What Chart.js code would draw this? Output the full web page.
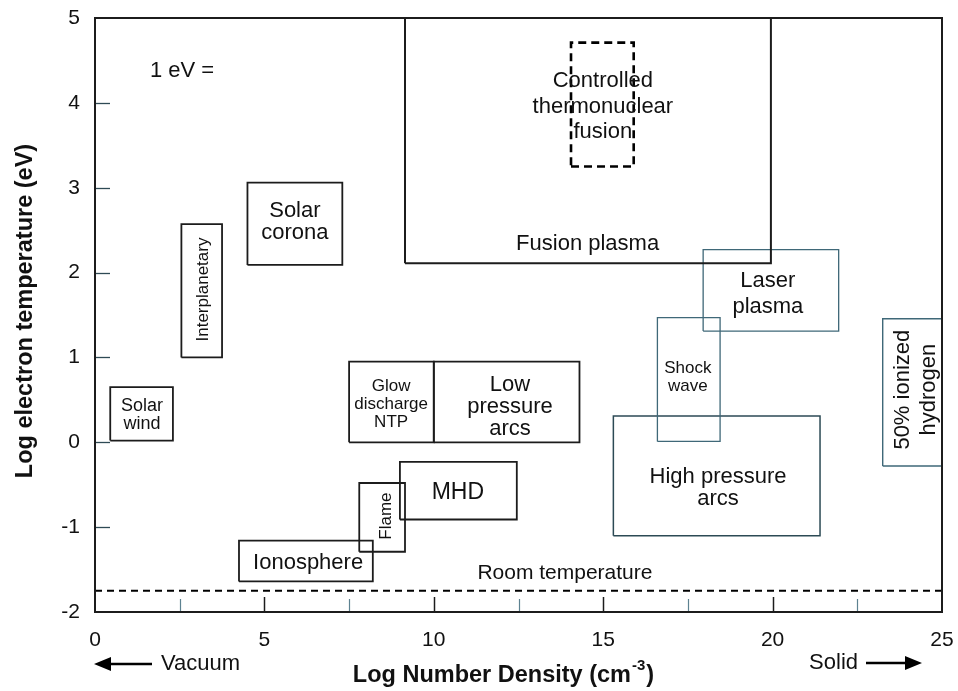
<!DOCTYPE html>
<html>
<head>
<meta charset="utf-8">
<script src="https://cdn.jsdelivr.net/npm/chart.js@4.4.1/dist/chart.umd.min.js"></script>
<style>
  html, body { margin: 0; padding: 0; background: #fff; }
  #wrap { width: 958px; height: 691px; }
</style>
</head>
<body>
<div id="wrap"><canvas id="plasmaChart" width="958" height="691"></canvas></div>
<script>
// Regions of the plasma map (log density in cm^-3, log temperature in eV)
const regionNames = ["Solar wind", "Interplanetary", "Solar corona", "Fusion plasma", "Controlled thermonuclear fusion",
  "Laser plasma", "Shock wave", "High pressure arcs", "50% ionized hydrogen", "Glow discharge NTP",
  "Low pressure arcs", "MHD", "Flame", "Ionosphere"];
const densityMin = [0.45, 2.55, 4.5, 9.15, 14.05, 17.95, 16.6, 15.3, 23.25, 7.5, 10.0, 9.0, 7.8, 4.25];
const densityMax = [2.3, 3.75, 7.3, 19.95, 15.9, 21.95, 18.45, 21.4, 25.0, 10.0, 14.3, 12.45, 9.15, 8.2];
const tempMin = [0.02, 1.0, 2.09, 2.11, 3.25, 1.31, 0.01, -1.1, -0.28, 0.0, 0.0, -0.91, -1.29, -1.64];
const tempMax = [0.65, 2.57, 3.06, 5.0, 4.71, 2.27, 1.47, 0.31, 1.455, 0.95, 0.95, -0.23, -0.48, -1.16];
const roomTemperature = -1.75;

// Tick labels
const xTickValues = [0, 5, 10, 15, 20, 25];
const yTickValues = [-2, -1, 0, 1, 2, 3, 4, 5];

// Text labels (lines, anchor in data units)
const labelLines = [["Solar", "wind"], ["Interplanetary"], ["Solar", "corona"], ["Fusion plasma"],
  ["Controlled", "thermonuclear", "fusion"], ["Laser", "plasma"], ["Shock", "wave"], ["High pressure", "arcs"],
  ["50% ionized", "hydrogen"], ["Glow", "discharge", "NTP"], ["Low", "pressure", "arcs"], ["MHD"], ["Flame"],
  ["Ionosphere"], ["1 eV ="], ["Room temperature"]];
const labelX = [1.39, 3.16, 5.9, 14.54, 14.99, 19.86, 17.5, 18.39, 24.2, 8.74, 12.25, 10.71, 8.56, 6.29, 1.62, 13.87];
const labelY = [0.34, 1.8, 2.61, 2.35, 3.975, 1.77, 0.78, -0.52, 0.62, 0.47, 0.44, -0.58, -0.87, -1.4, 4.39, -1.53];

const fontFamily = '"Liberation Sans", Arial, Helvetica, sans-serif';
const dark = "#1c1c1c";
const blueish = "#3f6878";

// styles for each region box
const regionStyles = [
  { color: dark, width: 1.8 }, { color: dark, width: 1.8 }, { color: dark, width: 1.8 },
  { color: dark, width: 2 }, { color: "#000", width: 2.6, dash: [8, 5] },
  { color: blueish, width: 1.3 }, { color: blueish, width: 1.3 }, { color: "#2c4a55", width: 1.5 },
  { color: blueish, width: 1.4 }, { color: dark, width: 1.8 }, { color: dark, width: 1.8 },
  { color: dark, width: 1.8 }, { color: dark, width: 1.8 }, { color: dark, width: 1.8 }
];

// styles for each text label
const labelStyles = [
  { size: 18, lh: 18 }, { size: 17, rot: true }, { size: 22, lh: 22 }, { size: 22 },
  { size: 22, lh: 25.5 }, { size: 22, lh: 26 }, { size: 17, lh: 18 }, { size: 22, lh: 22 },
  { size: 22, lh: 26, rot: true }, { size: 17, lh: 18 }, { size: 22, lh: 22 }, { size: 23 },
  { size: 17, rot: true }, { size: 22 }, { size: 22, align: "left" }, { size: 21 }
];

const datasets = regionNames.map((name, i) => ({
  label: name,
  data: [
    { x: densityMin[i], y: tempMin[i] },
    { x: densityMax[i], y: tempMin[i] },
    { x: densityMax[i], y: tempMax[i] },
    { x: densityMin[i], y: tempMax[i] },
    { x: densityMin[i], y: tempMin[i] },
  ],
  showLine: true,
  borderColor: regionStyles[i].color,
  borderWidth: regionStyles[i].width,
  borderDash: regionStyles[i].dash || [],
  pointRadius: 0,
  fill: false,
  tension: 0,
  clip: false,
}));

datasets.push({
  label: "Room temperature",
  data: [{ x: 0, y: roomTemperature }, { x: 25, y: roomTemperature }],
  showLine: true,
  borderColor: "#000",
  borderWidth: 2,
  borderDash: [7, 5],
  pointRadius: 0,
  fill: false,
});

// frame, inward ticks, labels, axis titles, arrows
const decorPlugin = {
  id: "decor",
  afterDatasetsDraw(chart) {
    const ctx = chart.ctx;
    const area = chart.chartArea;
    const xs = chart.scales.x;
    const ys = chart.scales.y;
    ctx.save();

    // inward tick marks
    for (let v = 2.5; v < 25; v += 2.5) {
      const px = Math.round(xs.getPixelForValue(v)) + 0.5;
      const major = v % 5 === 0;
      ctx.strokeStyle = major ? dark : "#5d8291";
      ctx.lineWidth = major ? 1.5 : 1.2;
      ctx.beginPath();
      ctx.moveTo(px, area.bottom);
      ctx.lineTo(px, area.bottom - (major ? 15 : 13));
      ctx.stroke();
    }
    yTickValues.forEach((v) => {
      if (v === -2 || v === 5) return;
      const py = Math.round(ys.getPixelForValue(v)) + 0.5;
      ctx.strokeStyle = "#2e4a55";
      ctx.lineWidth = 1.3;
      ctx.beginPath();
      ctx.moveTo(area.left, py);
      ctx.lineTo(area.left + 15, py);
      ctx.stroke();
    });

    // frame
    ctx.strokeStyle = dark;
    ctx.lineWidth = 2;
    ctx.strokeRect(area.left, area.top, area.right - area.left, area.bottom - area.top);

    // region labels
    ctx.fillStyle = "#111";
    labelLines.forEach((lines, i) => {
      const st = labelStyles[i];
      const lh = st.lh || st.size;
      const px = xs.getPixelForValue(labelX[i]);
      const py = ys.getPixelForValue(labelY[i]);
      ctx.save();
      ctx.translate(px + (st.rot ? 1.5 : 0), py + (st.rot ? 0 : 1.5));
      if (st.rot) ctx.rotate(-Math.PI / 2);
      ctx.font = st.size + "px " + fontFamily;
      ctx.textAlign = st.align || "center";
      ctx.textBaseline = "middle";
      const off = ((lines.length - 1) * lh) / 2;
      lines.forEach((line, k) => ctx.fillText(line, 0, k * lh - off));
      ctx.restore();
    });

    // y axis title
    ctx.save();
    ctx.translate(26, (area.top + area.bottom) / 2 - 4);
    ctx.rotate(-Math.PI / 2);
    ctx.font = "bold 23.5px " + fontFamily;
    ctx.textAlign = "center";
    ctx.textBaseline = "middle";
    ctx.fillStyle = "#111";
    ctx.fillText("Log electron temperature (eV)", 0, 0);
    ctx.restore();

    // x axis title with superscript
    ctx.font = "bold 23.5px " + fontFamily;
    const part1 = "Log Number Density (cm";
    const w1 = ctx.measureText(part1).width;
    const w3 = ctx.measureText(")").width;
    ctx.font = "bold 15px " + fontFamily;
    const w2 = ctx.measureText("-3").width;
    const cx = (area.left + area.right) / 2 - 16;
    let tx = cx - (w1 + w2 + w3) / 2;
    const ty = 676;
    ctx.textAlign = "left";
    ctx.textBaseline = "middle";
    ctx.font = "bold 23.5px " + fontFamily;
    ctx.fillText(part1, tx, ty);
    ctx.font = "bold 15px " + fontFamily;
    ctx.fillText("-3", tx + w1 + 1, ty - 10);
    ctx.font = "bold 23.5px " + fontFamily;
    ctx.fillText(")", tx + w1 + w2 + 2, ty);

    // Vacuum / Solid arrows
    ctx.font = "22px " + fontFamily;
    ctx.fillText("Vacuum", area.left + 66, 664);
    ctx.textAlign = "right";
    ctx.fillText("Solid", area.right - 84, 663);
    ctx.strokeStyle = "#000";
    ctx.fillStyle = "#000";
    ctx.lineWidth = 2.5;
    ctx.beginPath();
    ctx.moveTo(area.left + 12, 664);
    ctx.lineTo(area.left + 57, 664);
    ctx.moveTo(area.right - 76, 663);
    ctx.lineTo(area.right - 34, 663);
    ctx.stroke();
    ctx.beginPath();
    ctx.moveTo(area.left - 1, 664);
    ctx.lineTo(area.left + 16, 657);
    ctx.lineTo(area.left + 16, 671);
    ctx.closePath();
    ctx.moveTo(area.right - 20, 663);
    ctx.lineTo(area.right - 37, 656);
    ctx.lineTo(area.right - 37, 670);
    ctx.closePath();
    ctx.fill();

    ctx.restore();
  },
};

new Chart(document.getElementById("plasmaChart").getContext("2d"), {
  type: "scatter",
  data: { datasets },
  options: {
    responsive: false,
    animation: false,
    layout: { padding: { top: 18, right: 16, left: 0, bottom: 0 } },
    plugins: { legend: { display: false }, tooltip: { enabled: false } },
    scales: {
      x: {
        type: "linear",
        min: 0,
        max: 25,
        afterFit: (scale) => {
          scale.height = 79;
          scale.paddingLeft = 0;
          scale.paddingRight = 0;
        },
        afterBuildTicks: (scale) => { scale.ticks = xTickValues.map((v) => ({ value: v })); },
        ticks: { color: "#111", font: { size: 21, family: fontFamily }, padding: 16, maxRotation: 0 },
        grid: { display: false, drawTicks: false },
        border: { display: false },
      },
      y: {
        type: "linear",
        min: -2,
        max: 5,
        afterFit: (scale) => {
          scale.width = 95;
          scale.paddingTop = 0;
          scale.paddingBottom = 0;
        },
        afterBuildTicks: (scale) => { scale.ticks = yTickValues.map((v) => ({ value: v })); },
        ticks: { color: "#111", font: { size: 21, family: fontFamily }, padding: 15 },
        grid: { display: false, drawTicks: false },
        border: { display: false },
      },
    },
  },
  plugins: [decorPlugin],
});
</script>
</body>
</html>
